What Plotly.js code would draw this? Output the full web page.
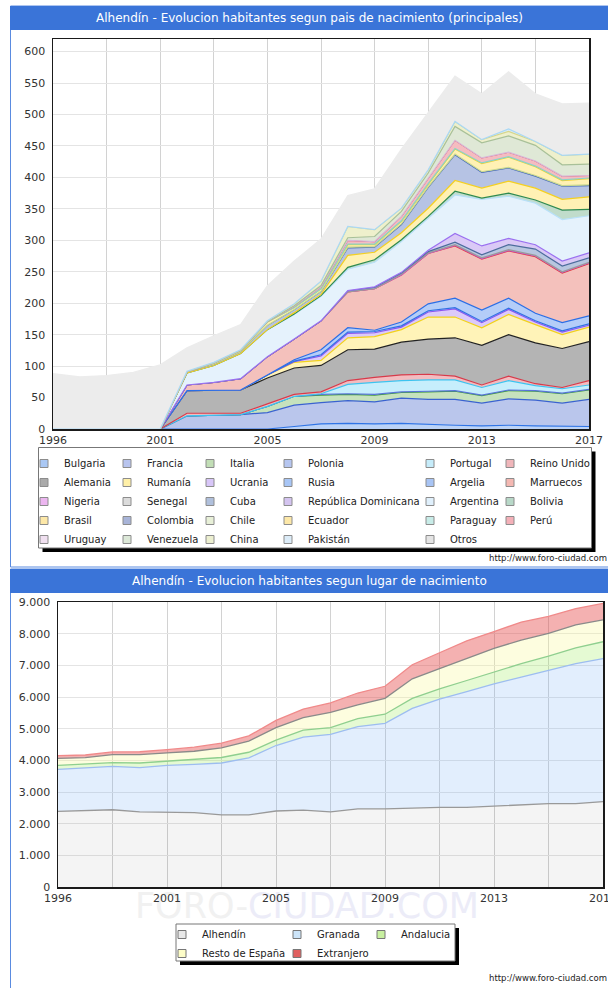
<!DOCTYPE html>
<html>
<head>
<meta charset="utf-8">
<script src="https://cdn.plot.ly/plotly-3.0.1.min.js"></script>
<style>
  body { margin: 0; background: #fff; }
  #plot { width: 608px; height: 988px; }
</style>
</head>
<body>
<div id="plot"></div>
<script>
// years of the padron (there is no 1997)
const years = ['1996', '1998', '1999', '2000', '2001', '2002', '2003', '2004', '2005', '2006', '2007',
               '2008', '2009', '2010', '2011', '2012', '2013', '2014', '2015', '2016', '2017'];
const gridYears = ['1996', '1999', '2001', '2003', '2005', '2007', '2009', '2011', '2013', '2015', '2017'];
const gridLabels = ['1996', '', '2001', '', '2005', '', '2009', '', '2013', '', '2017'];

// top chart: habitantes segun pais de nacimiento
const paises = ['Bulgaria', 'Francia', 'Italia', 'Polonia', 'Portugal', 'Reino Unido',
                'Alemania', 'Rumanía', 'Ucrania', 'Rusia', 'Argelia', 'Marruecos',
                'Nigeria', 'Senegal', 'Cuba', 'República Dominicana', 'Argentina', 'Bolivia',
                'Brasil', 'Colombia', 'Chile', 'Ecuador', 'Paraguay', 'Perú',
                'Uruguay', 'Venezuela', 'China', 'Pakistán', 'Otros'];

const bulgaria      = [0, 0, 0, 0, 0, 0, 0, 0, 0, 4, 8, 9, 8, 9, 7, 6, 5, 6, 5, 4, 4];
const francia       = [0, 0, 0, 0, 0, 21, 22, 23, 26, 34, 34, 36, 35, 40, 40, 41, 36, 42, 41, 37, 43];
const italia        = [0, 0, 0, 0, 0, 0, 0, 0, 10, 14, 12, 10, 11, 9, 12, 13, 12, 13, 14, 15, 15];
const polonia       = [0, 0, 0, 0, 0, 0, 0, 0, 0, 0, 1, 1, 1, 1, 1, 1, 1, 1, 1, 1, 1];
const portugal      = [0, 0, 0, 0, 0, 0, 0, 0, 0, 0, 1, 15, 19, 18, 18, 17, 12, 15, 8, 7, 7];
const reinoUnido    = [0, 0, 0, 0, 0, 4, 3, 2, 4, 3, 3, 6, 8, 9, 9, 6, 4, 7, 3, 2, 7];
const alemania      = [0, 0, 0, 0, 0, 36, 36, 37, 41, 42, 42, 49, 45, 52, 56, 61, 63, 66, 65, 62, 62];
const rumania       = [0, 0, 0, 0, 0, 0, 0, 0, 5, 9, 8, 19, 20, 20, 35, 33, 28, 32, 29, 22, 23];
const ucrania       = [0, 0, 0, 0, 0, 0, 0, 0, 0, 1, 7, 7, 6, 4, 8, 13, 8, 8, 4, 4, 3];
const rusia         = [0, 0, 0, 0, 0, 0, 0, 0, 0, 1, 2, 2, 2, 2, 2, 2, 2, 2, 2, 2, 2];
const argelia       = [0, 0, 0, 0, 0, 0, 0, 0, 0, 2, 8, 7, 2, 6, 11, 15, 18, 16, 12, 13, 13];
const marruecos     = [0, 0, 0, 0, 0, 9, 13, 18, 29, 33, 46, 57, 66, 75, 80, 83, 81, 75, 90, 79, 83];
const nigeria       = [0, 0, 0, 0, 0, 0, 0, 0, 0, 0, 0, 0, 0, 0, 0, 1, 1, 1, 1, 1, 1];
const senegal       = [0, 0, 0, 0, 0, 0, 0, 0, 0, 0, 0, 0, 0, 1, 1, 1, 1, 1, 1, 1, 1];
const cuba          = [0, 0, 0, 0, 0, 0, 0, 0, 0, 0, 0, 2, 2, 2, 2, 4, 5, 8, 10, 9, 7];
const repDominicana = [0, 0, 0, 0, 0, 0, 0, 0, 0, 0, 0, 0, 1, 1, 2, 14, 14, 10, 7, 8, 8];
const argentina     = [0, 0, 0, 0, 0, 19, 27, 40, 43, 39, 39, 34, 39, 49, 51, 61, 74, 67, 66, 66, 59];
const bolivia       = [0, 0, 0, 0, 0, 0, 0, 0, 0, 1, 1, 3, 4, 3, 3, 6, 2, 5, 5, 15, 10];
const brasil        = [0, 0, 0, 0, 0, 0, 0, 0, 0, 2, 2, 19, 12, 11, 13, 17, 16, 19, 19, 17, 20];
const colombia      = [0, 0, 0, 0, 0, 2, 2, 3, 7, 5, 5, 12, 8, 13, 33, 41, 25, 21, 19, 21, 18];
const chile         = [0, 0, 0, 0, 0, 0, 0, 0, 0, 0, 0, 1, 1, 1, 1, 1, 1, 1, 1, 1, 1];
const ecuador       = [0, 0, 0, 0, 0, 0, 2, 2, 5, 3, 4, 4, 3, 4, 4, 8, 13, 16, 14, 8, 10];
const paraguay      = [0, 0, 0, 0, 0, 0, 0, 0, 0, 0, 0, 1, 1, 1, 1, 1, 1, 1, 1, 1, 1];
const peru          = [0, 0, 0, 0, 0, 0, 0, 0, 1, 2, 3, 6, 4, 7, 9, 13, 8, 7, 8, 6, 4];
const uruguay       = [0, 0, 0, 0, 0, 0, 0, 0, 0, 0, 0, 0, 0, 0, 0, 0, 0, 0, 0, 0, 0];
const venezuela     = [0, 0, 0, 0, 0, 0, 0, 0, 0, 1, 2, 4, 8, 8, 8, 22, 24, 26, 25, 18, 18];
const china         = [0, 0, 0, 0, 0, 1, 1, 1, 1, 3, 7, 18, 11, 5, 5, 8, 5, 7, 6, 15, 16];
const pakistan      = [0, 0, 0, 0, 0, 0, 0, 0, 0, 0, 0, 0, 0, 0, 0, 0, 0, 4, 0, 0, 0];
const otros         = [88, 83, 85, 90, 102, 37, 42, 40, 56, 68, 67, 49, 65, 94, 91, 72, 73, 91, 76, 82, 81];

const valoresPaises = [bulgaria, francia, italia, polonia, portugal, reinoUnido,
                       alemania, rumania, ucrania, rusia, argelia, marruecos,
                       nigeria, senegal, cuba, repDominicana, argentina, bolivia,
                       brasil, colombia, chile, ecuador, paraguay, peru,
                       uruguay, venezuela, china, pakistan, otros];

// bottom chart: habitantes segun lugar de nacimiento
const lugares = ['Alhendín', 'Granada', 'Andalucia', 'Resto de España', 'Extranjero'];
const alhendin    = [2390, 2410, 2440, 2370, 2370, 2350, 2280, 2280, 2400, 2430, 2370, 2470, 2470, 2500, 2515, 2515, 2550, 2580, 2630, 2630, 2695];
const granada     = [1326, 1348, 1370, 1398, 1472, 1524, 1636, 1795, 2068, 2304, 2450, 2594, 2700, 3138, 3421, 3655, 3865, 4048, 4210, 4423, 4518];
const andalucia   = [126, 116, 116, 148, 137, 147, 174, 180, 170, 223, 212, 255, 287, 319, 319, 351, 372, 425, 447, 500, 532];
const restoEspana = [218, 211, 255, 265, 255, 266, 304, 351, 394, 394, 479, 436, 500, 617, 639, 692, 745, 745, 724, 724, 691];
const extranjero  = [88, 83, 85, 90, 102, 129, 148, 166, 228, 267, 302, 371, 382, 445, 503, 561, 533, 568, 533, 517, 518];
const valoresLugares = [alhendin, granada, andalucia, restoEspana, extranjero];

// styles
const fillPaises = ['#bcd3f7', '#bac6ec', '#c6e2bd', '#bcc8f0', '#c6eefc', '#f2bcc0',
                    '#b4b4b4', '#fff3b8', '#dccaf9', '#b6cef7', '#b4cdf8', '#f4c1bc',
                    '#f0c4f0', '#dadada', '#b8c6e0', '#dac9f6', '#e5f2fc', '#c0dccb',
                    '#fff1b4', '#b6c3e4', '#e8efd6', '#fff1b4', '#caece6', '#f5bcc0',
                    '#f2e2f2', '#dfe8d6', '#eef0cc', '#dcecf8', '#ececec'];
const linePaises = ['#2f74e6', '#3a62d0', '#3d9a3a', '#5874d8', '#3cc4f0', '#d83a4a',
                    '#222222', '#f2d21a', '#8a55f0', '#3070e4', '#2a6ee6', '#e0383a',
                    '#c855c8', '#9a9a9a', '#4c6c9c', '#9a70f0', '#b8e0f8', '#2e8a50',
                    '#f5d020', '#3c62b8', '#c8d890', '#f0d030', '#88d4c8', '#e04050',
                    '#d8b8d8', '#a8c098', '#d6d68a', '#aad8f5', '#ececec'];
const legendPaises = ['#aac8f4', '#b8c4ee', '#c2deb6', '#b6c6f0', '#c6ecfa', '#f0b6ba',
                      '#aaaaaa', '#fff0a8', '#d8c6f8', '#a8c6f6', '#a8c4f4', '#f4b8b2',
                      '#ecb6f0', '#dcdcdc', '#b0c0dc', '#d4c4f0', '#e0f0fc', '#b8d8c8',
                      '#fde8a8', '#a8b4d8', '#e8f0d8', '#fde8a8', '#c8ece8', '#f4b0b8',
                      '#f0e0f0', '#dce8d8', '#ecefd0', '#dcecf8', '#e4e4e4'];

const fillLugares = ['rgba(0,0,0,0.045)', 'rgba(110,170,245,0.2)', 'rgba(150,235,80,0.25)',
                     'rgba(250,250,150,0.3)', 'rgba(228,70,70,0.42)'];
const lineLugares = ['#999999', '#9dbdf0', '#8fcf8f', '#8a8a8a', '#f08a8a'];
const legendLugares = ['#e8e8e8', '#cce4f8', '#c8f0a0', '#fdfdc8', '#e06060'];

const W = 608, H = 988;
function px(x) { return x / W; }
function py(y) { return 1 - y / H; }

const font = 'DejaVu Sans';
const traces = [];

valoresPaises.forEach((vals, k) => {
    traces.push({
        x: years, y: vals, type: 'scatter', mode: 'lines',
        stackgroup: 'paises', xaxis: 'x', yaxis: 'y',
        fillcolor: fillPaises[k],
        line: { color: linePaises[k], width: 1.2 },
        name: paises[k], showlegend: false, hoverinfo: 'skip'
    });
});

valoresLugares.forEach((vals, k) => {
    traces.push({
        x: years, y: vals, type: 'scatter', mode: 'lines',
        stackgroup: 'lugares', xaxis: 'x2', yaxis: 'y2',
        fillcolor: fillLugares[k],
        line: { color: lineLugares[k], width: 1.3 },
        name: lugares[k], showlegend: false, hoverinfo: 'skip'
    });
});

// legend entries (small squares), one legend per column
paises.forEach((p, k) => {
    const col = k % 6;
    traces.push({
        x: [null], y: [null], type: 'scatter', mode: 'markers', xaxis: 'x', yaxis: 'y',
        name: p, legendgroup: p, legend: col === 0 ? 'legend' : 'legend' + (col + 1),
        marker: { symbol: 'square', size: 8, color: legendPaises[k], line: { color: '#8c8c8c', width: 1 } }
    });
});
const colLugares = ['legend7', 'legend8', 'legend9', 'legend7', 'legend8'];
lugares.forEach((l, k) => {
    traces.push({
        x: [null], y: [null], type: 'scatter', mode: 'markers', xaxis: 'x2', yaxis: 'y2',
        name: l, legendgroup: l, legend: colLugares[k],
        marker: { symbol: 'square', size: 8, color: legendLugares[k], line: { color: '#777', width: 1 } }
    });
});

function legendAt(x, y) {
    return {
        x: px(x), y: py(y), xanchor: 'left', yanchor: 'top', traceorder: 'normal',
        bgcolor: 'rgba(0,0,0,0)', borderwidth: 0, itemwidth: 30, tracegroupgap: 1,
        font: { family: font, size: 10, color: '#222' }
    };
}

const topCols = [62, 145, 228, 306, 448, 528];
const botCols = [200, 315, 399];

const xBase = {
    type: 'category', range: [0, 20], tickmode: 'array',
    tickvals: gridYears, ticktext: gridLabels,
    showgrid: true, gridcolor: '#d2d2d2', gridwidth: 1,
    showline: true, mirror: true, linecolor: '#1a1a1a', linewidth: 1.5,
    zeroline: false, ticks: '', fixedrange: true,
    tickfont: { family: font, size: 11, color: '#333' }
};

const layout = {
    width: W, height: H,
    margin: { l: 0, r: 0, t: 0, b: 0 },
    paper_bgcolor: '#fff', plot_bgcolor: '#fff',
    separators: ',.',
    showlegend: true,
    xaxis: Object.assign({}, xBase, { domain: [px(53), px(589)], anchor: 'y' }),
    yaxis: {
        domain: [py(429), py(39)], anchor: 'x', range: [0, 620], dtick: 50, tick0: 0,
        showgrid: true, gridcolor: '#e4e4e4', zeroline: false,
        showline: true, mirror: true, linecolor: '#1a1a1a', linewidth: 1.5,
        ticks: '', ticklabelstandoff: 4,
        tickfont: { family: font, size: 11, color: '#333' }
    },
    xaxis2: Object.assign({}, xBase, { domain: [px(58), px(603)], anchor: 'y2' }),
    yaxis2: {
        domain: [py(887), py(602)], anchor: 'x2', range: [0, 9000], dtick: 1000, tick0: 0,
        tickformat: ',d',
        showgrid: true, gridcolor: '#e4e4e4', zeroline: false,
        showline: true, mirror: true, linecolor: '#1a1a1a', linewidth: 1.5,
        ticks: '', ticklabelstandoff: 4,
        tickfont: { family: font, size: 11, color: '#333' }
    },
    shapes: [
        // watermark, kept under the tick labels
        { type: 'rect', xref: 'paper', yref: 'paper', layer: 'below',
          x0: px(100), x1: px(514), y0: py(922), y1: py(884),
          line: { width: 0 }, fillcolor: 'rgba(0,0,0,0)',
          label: { text: '<span style="color:#f1f1f1">FORO-</span><span style="color:#ececf8">CIUDAD.COM</span>',
                   textposition: 'middle center', font: { family: font, size: 35, color: '#efeff4' } } },
        // panels and headers
        { type: 'rect', xref: 'paper', yref: 'paper', x0: px(10.5), x1: px(640), y0: py(6), y1: py(567),
          line: { color: '#5a8be0', width: 1 }, fillcolor: 'rgba(0,0,0,0)' },
        { type: 'rect', xref: 'paper', yref: 'paper', x0: px(10), x1: px(640), y0: py(6), y1: py(30),
          line: { width: 0 }, fillcolor: '#3a74d8' },
        { type: 'rect', xref: 'paper', yref: 'paper', x0: px(10.5), x1: px(640), y0: py(569), y1: py(1000),
          line: { color: '#5a8be0', width: 1 }, fillcolor: 'rgba(0,0,0,0)' },
        { type: 'rect', xref: 'paper', yref: 'paper', x0: px(10), x1: px(640), y0: py(569), y1: py(593),
          line: { width: 0 }, fillcolor: '#3a74d8' },
        // legend boxes with their shadow
        { type: 'rect', xref: 'paper', yref: 'paper', x0: px(42.5), x1: px(595.5), y0: py(451.5), y1: py(552),
          line: { width: 0 }, fillcolor: '#000' },
        { type: 'rect', xref: 'paper', yref: 'paper', x0: px(38.5), x1: px(591.5), y0: py(447.5), y1: py(548),
          line: { color: '#777', width: 1 }, fillcolor: '#fff' },
        { type: 'rect', xref: 'paper', yref: 'paper', x0: px(180), x1: px(459), y0: py(928), y1: py(965),
          line: { width: 0 }, fillcolor: '#000' },
        { type: 'rect', xref: 'paper', yref: 'paper', x0: px(176), x1: px(455), y0: py(924), y1: py(961),
          line: { color: '#777', width: 1 }, fillcolor: '#fff' }
    ],
    annotations: [
        { xref: 'paper', yref: 'paper', x: px(309), y: py(18), xanchor: 'center', yanchor: 'middle',
          text: 'Alhendín - Evolucion habitantes segun pais de nacimiento (principales)', showarrow: false,
          font: { family: font, size: 12, color: '#fff' } },
        { xref: 'paper', yref: 'paper', x: px(309), y: py(581), xanchor: 'center', yanchor: 'middle',
          text: 'Alhendín - Evolucion habitantes segun lugar de nacimiento', showarrow: false,
          font: { family: font, size: 12, color: '#fff' } },
        { xref: 'paper', yref: 'paper', x: px(487), y: py(558), xanchor: 'left', yanchor: 'middle',
          text: 'http://www.foro-ciudad.com', showarrow: false,
          font: { family: font, size: 8.5, color: '#222' } },
        { xref: 'paper', yref: 'paper', x: px(487), y: py(978), xanchor: 'left', yanchor: 'middle',
          text: 'http://www.foro-ciudad.com', showarrow: false,
          font: { family: font, size: 8.5, color: '#222' } }
    ]
};

topCols.forEach((x, c) => {
    layout[c === 0 ? 'legend' : 'legend' + (c + 1)] = legendAt(x - 38, 449);
});
botCols.forEach((x, c) => {
    layout['legend' + (c + 7)] = legendAt(x - 38, 920);
});

Plotly.newPlot('plot', traces, layout, { staticPlot: true, displayModeBar: false });
</script>
</body>
</html>
